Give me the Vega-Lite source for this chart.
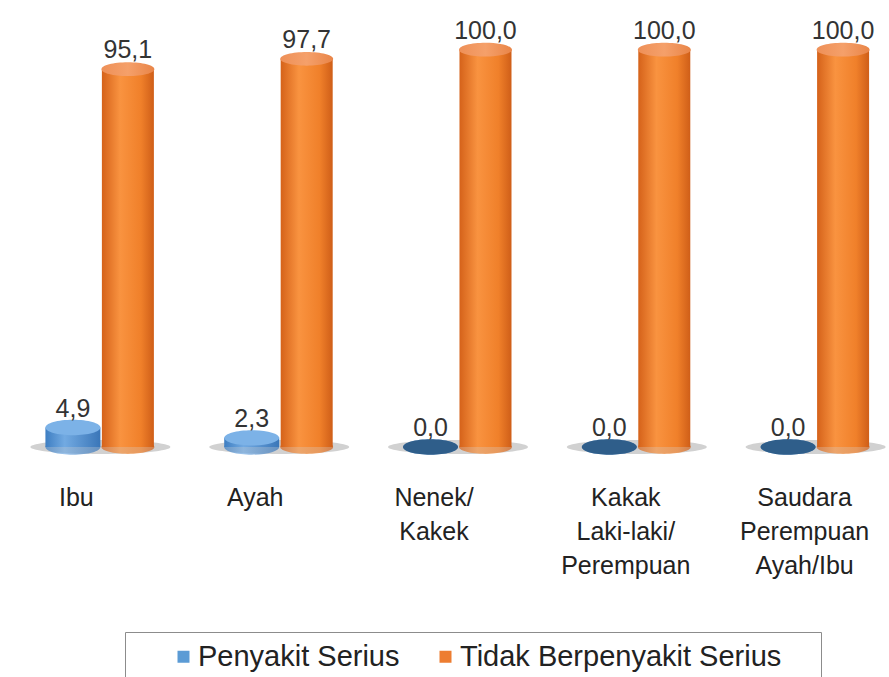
{
  "$schema": "https://vega.github.io/schema/vega-lite/v6.json",
  "width": 878,
  "height": 437,
  "autosize": "none",
  "padding": {"left": 11, "top": 10, "right": 0, "bottom": 230},
  "background": "white",
  "data": {"values": [
    {"kategori": "Ibu", "seri": "Penyakit Serius", "nilai": 4.9},
    {"kategori": "Ibu", "seri": "Tidak Berpenyakit Serius", "nilai": 95.1},
    {"kategori": "Ayah", "seri": "Penyakit Serius", "nilai": 2.3},
    {"kategori": "Ayah", "seri": "Tidak Berpenyakit Serius", "nilai": 97.7},
    {"kategori": "Nenek/ Kakek", "seri": "Penyakit Serius", "nilai": 0.0},
    {"kategori": "Nenek/ Kakek", "seri": "Tidak Berpenyakit Serius", "nilai": 100.0},
    {"kategori": "Kakak Laki-laki/ Perempuan", "seri": "Penyakit Serius", "nilai": 0.0},
    {"kategori": "Kakak Laki-laki/ Perempuan", "seri": "Tidak Berpenyakit Serius", "nilai": 100.0},
    {"kategori": "Saudara Perempuan Ayah/Ibu", "seri": "Penyakit Serius", "nilai": 0.0},
    {"kategori": "Saudara Perempuan Ayah/Ibu", "seri": "Tidak Berpenyakit Serius", "nilai": 100.0}
  ]},
  "encoding": {
    "x": {
      "field": "kategori", "type": "nominal", "sort": null,
      "scale": {"range": [0, 894], "paddingInner": 0.385, "paddingOuter": 0.1925},
      "axis": {
        "title": null, "domain": false, "ticks": false, "grid": false,
        "labelAngle": 0, "labelFont": "Liberation Sans", "labelFontSize": 25,
        "labelColor": "#222222", "labelPadding": 38, "labelLineHeight": 34,
        "labelBaseline": "top", "labelAlign": "center", "labelLimit": 300,
        "labelExpr": "split(datum.label, ' ')",
        "labelOffset": {"condition": {"test": "indexof(['Ibu','Ayah','Nenek/ Kakek'], datum.value) >= 0", "value": -24}, "value": -11}
      }
    },
    "y": {"field": "nilai", "type": "quantitative", "scale": {"domain": [0, 110]}, "axis": null}
  },
  "layer": [
    {
      "transform": [{"filter": "datum.seri == 'Tidak Berpenyakit Serius'"}],
      "mark": {"type": "point", "filled": true, "shape": "M-1,0A1,0.1,0,1,0,1,0A1,0.1,0,1,0,-1,0Z", "size": 19600, "fill": "#7a7a7a", "opacity": 0.35, "dx": -22, "dy": 3, "strokeWidth": 0},
      "encoding": {"y": {"datum": 0}}
    },
    {
      "mark": {"type": "point", "filled": true, "size": 0, "opacity": 1},
      "encoding": {
        "y": {"datum": 0},
        "xOffset": {"field": "seri", "type": "nominal", "scale": {"paddingInner": 0, "paddingOuter": 0}},
        "color": {
          "field": "seri", "type": "nominal",
          "scale": {"domain": ["Penyakit Serius", "Tidak Berpenyakit Serius"], "range": ["#5B9BD5", "#ED7D31"]},
          "legend": {
            "title": "\u2800", "titleOrient": "left", "titleFont": "Liberation Sans", "titleFontSize": 29, "titlePadding": 13,
            "orient": "none", "legendX": 114, "legendY": 622,
            "direction": "horizontal", "symbolType": "square", "symbolSize": 144,
            "symbolStrokeWidth": 0, "symbolOpacity": 1,
            "labelFont": "Liberation Sans", "labelFontSize": 29, "labelColor": "#222222",
            "labelOffset": 0, "labelLimit": 600, "columnPadding": 31,
            "labelExpr": "datum.label == 'Tidak Berpenyakit Serius' ? datum.label + '\u00a0\u2800' : datum.label",
            "strokeColor": "#8c8c8c", "padding": 10, "fillColor": "white"
          }
        }
      }
    },
    {
      "transform": [{"filter": "datum.seri == 'Penyakit Serius'"}],
      "mark": {"type": "point", "filled": true, "shape": "M-1,0A1,0.28,0,1,0,1,0A1,0.28,0,1,0,-1,0Z", "size": 3025, "strokeWidth": 0,
        "fill": {"gradient": "linear", "x1": 0, "x2": 1, "y1": 0, "y2": 0, "stops": [{"offset": 0, "color": "#3E7EC2"}, {"offset": 0.35, "color": "#72AAE2"}, {"offset": 1, "color": "#3A76B8"}]}},
      "encoding": {"y": {"datum": 0}, "xOffset": {"field": "seri", "type": "nominal"}}
    },
    {
      "transform": [{"filter": "datum.seri == 'Penyakit Serius'"}],
      "mark": {"type": "bar",
        "fill": {"gradient": "linear", "x1": 0, "x2": 1, "y1": 0, "y2": 0, "stops": [{"offset": 0, "color": "#3E7EC2"}, {"offset": 0.35, "color": "#72AAE2"}, {"offset": 1, "color": "#3A76B8"}]}},
      "encoding": {"xOffset": {"field": "seri", "type": "nominal"}}
    },
    {
      "transform": [{"filter": "datum.seri == 'Penyakit Serius'"}],
      "mark": {"type": "point", "filled": true, "shape": "M-1,0A1,0.28,0,1,0,1,0A1,0.28,0,1,0,-1,0Z", "size": 3025, "strokeWidth": 0, "opacity": 1},
      "encoding": {
        "xOffset": {"field": "seri", "type": "nominal"},
        "fill": {"condition": {"test": "datum.nilai == 0", "value": "#2F5E8A"}, "value": "#7CB2E7"}
      }
    },
    {
      "transform": [{"filter": "datum.seri == 'Tidak Berpenyakit Serius'"}],
      "mark": {"type": "point", "filled": true, "shape": "M-1,0A1,0.26,0,1,0,1,0A1,0.26,0,1,0,-1,0Z", "size": 2800, "strokeWidth": 0,
        "fill": {"gradient": "linear", "x1": 0, "x2": 1, "y1": 0, "y2": 0, "stops": [{"offset": 0, "color": "#D5621A"}, {"offset": 0.35, "color": "#F99340"}, {"offset": 0.75, "color": "#F0802A"}, {"offset": 1, "color": "#CF5E18"}]}},
      "encoding": {"y": {"datum": 0}, "xOffset": {"field": "seri", "type": "nominal"}}
    },
    {
      "transform": [{"filter": "datum.seri == 'Tidak Berpenyakit Serius'"}],
      "mark": {"type": "bar", "width": 52,
        "fill": {"gradient": "linear", "x1": 0, "x2": 1, "y1": 0, "y2": 0, "stops": [{"offset": 0, "color": "#D5621A"}, {"offset": 0.35, "color": "#F99340"}, {"offset": 0.75, "color": "#F0802A"}, {"offset": 1, "color": "#CF5E18"}]}},
      "encoding": {"xOffset": {"field": "seri", "type": "nominal"}}
    },
    {
      "transform": [{"filter": "datum.seri == 'Tidak Berpenyakit Serius'"}],
      "mark": {"type": "point", "filled": true, "shape": "M-1,0A1,0.26,0,1,0,1,0A1,0.26,0,1,0,-1,0Z", "size": 2800, "strokeWidth": 0, "opacity": 1,
        "fill": {"gradient": "linear", "x1": 0, "x2": 1, "y1": 0, "y2": 0, "stops": [{"offset": 0, "color": "#EE9058"}, {"offset": 0.5, "color": "#F5A06A"}, {"offset": 1, "color": "#E98548"}]}},
      "encoding": {"xOffset": {"field": "seri", "type": "nominal"}}
    },
    {
      "mark": {"type": "text", "font": "Liberation Sans", "fontSize": 25, "fill": "#333333", "baseline": "alphabetic", "align": "center", "dy": -11},
      "encoding": {
        "xOffset": {"field": "seri", "type": "nominal"},
        "text": {"field": "nilai", "type": "quantitative", "format": ".1f"}
      }
    }
  ],
  "config": {
    "view": {"stroke": null},
    "locale": {"number": {"decimal": ",", "thousands": ".", "grouping": [3], "currency": ["", ""]}}
  }
}
